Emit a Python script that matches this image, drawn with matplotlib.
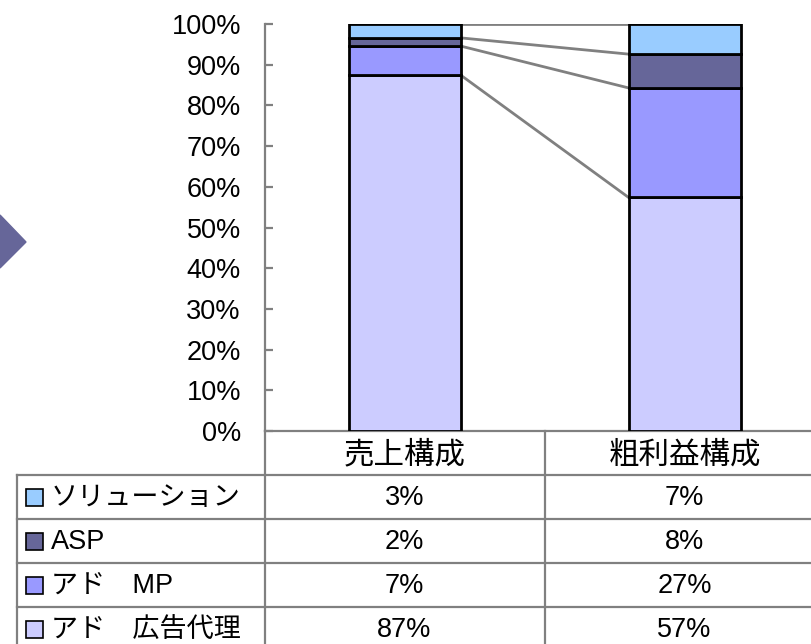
import matplotlib.pyplot as plt
import numpy as np
from matplotlib import font_manager
from matplotlib.lines import Line2D
from matplotlib.patches import Polygon, Rectangle

# data (shares in %)
categories = ["売上構成", "粗利益構成"]
series_names = ["アド\u3000広告代理", "アド\u3000MP", "ASP", "ソリューション"]  # bottom -> top
ad_agency = [87.3, 57.4]
ad_mp = [7.1, 26.9]
asp = [2.0, 8.3]
solution = [3.4, 7.4]
colors = ["#CCCCFF", "#9999FF", "#666699", "#99CCFF"]

W, H = 811, 644
names = {f.name for f in font_manager.fontManager.ttflist}
if "Liberation Sans Narrow" in names:
    latin, num_size = "Liberation Sans Narrow", 21.5
else:
    latin, num_size = "Liberation Sans", 19.5
plt.rcParams["font.family"] = [latin, "Noto Sans CJK JP"]

fig = plt.figure(figsize=(W / 100, H / 100), dpi=100)


def fx(x):
    return x / W


def fy(y):
    return 1 - y / H


ax = fig.add_axes([fx(264.5), fy(431), 560 / W, (431 - 24) / H])
ax.set_xlim(-0.5, 1.5)
ax.set_ylim(0, 1)

stack = [ad_agency, ad_mp, asp, solution]
totals = np.sum(stack, axis=0)
x = np.arange(len(categories))
bw = 0.4
bottom = np.zeros(len(categories))
for vals, c in zip(stack, colors):
    share = np.array(vals) / totals
    ax.bar(x, share, bw, bottom=bottom, color=c, edgecolor="black", linewidth=2, zorder=3)
    bottom = bottom + share
    # connector from top of segment in bar 1 to bar 2
    ax.plot([x[0] + bw / 2, x[1] - bw / 2], bottom, color="#808080", lw=2, zorder=2)

for s in ["top", "right"]:
    ax.spines[s].set_visible(False)
for s in ["left", "bottom"]:
    ax.spines[s].set_color("#808080")
    ax.spines[s].set_linewidth(1.6)
ax.set_xticks([])
ax.set_yticks(np.arange(0, 1.01, 0.1))
ax.set_yticklabels([f"{int(round(v * 100))}%" for v in np.arange(0, 1.01, 0.1)])
ax.tick_params(axis="y", direction="in", length=6, width=1.6, color="#808080",
               labelsize=num_size, pad=17)

# arrow shape on the left
fig.add_artist(Polygon([(fx(0), fy(215)), (fx(26), fy(242)), (fx(0), fy(268))],
                       closed=True, color="#666699", transform=fig.transFigure))

# data table
gray = "#808080"
row_edges = [475, 519, 563, 607, 651]
col_edges = [17, 264.5, 544.5, 824.5]


def hline(y, x0, x1):
    fig.add_artist(Line2D([fx(x0), fx(x1)], [fy(y), fy(y)], color=gray, lw=1.6,
                          transform=fig.transFigure))


def vline(x0, y0, y1):
    fig.add_artist(Line2D([fx(x0), fx(x0)], [fy(y0), fy(y1)], color=gray, lw=1.6,
                          transform=fig.transFigure))


for y in row_edges[:-1]:
    hline(y, col_edges[0], col_edges[-1])
vline(col_edges[0], row_edges[0], H)
vline(col_edges[1], 431, H)
vline(col_edges[2], 431, H)

col_centers = [(col_edges[i] + col_edges[i + 1]) / 2 for i in (1, 2)]
for cx, cat in zip(col_centers, categories):
    fig.text(fx(cx), fy(455), cat, ha="center", va="center", fontsize=22,
             family="Noto Sans CJK JP")

table_rows = list(zip(series_names, stack, colors))[::-1]
for i, (name, vals, c) in enumerate(table_rows):
    cy = (row_edges[i] + row_edges[i + 1]) / 2
    fig.add_artist(Rectangle((fx(26), fy(cy + 9)), 17 / W, 17 / H, facecolor=c,
                             edgecolor="black", lw=1.2, transform=fig.transFigure))
    fig.text(fx(51), fy(cy + 1), name, ha="left", va="center", fontsize=19.5,
             family=["Liberation Sans", "Noto Sans CJK JP"])
    for cx, v in zip(col_centers, vals):
        fig.text(fx(cx), fy(cy + 1), f"{int(round(v))}%", ha="center", va="center",
                 fontsize=num_size)

fig.savefig("out.png", dpi=100)
